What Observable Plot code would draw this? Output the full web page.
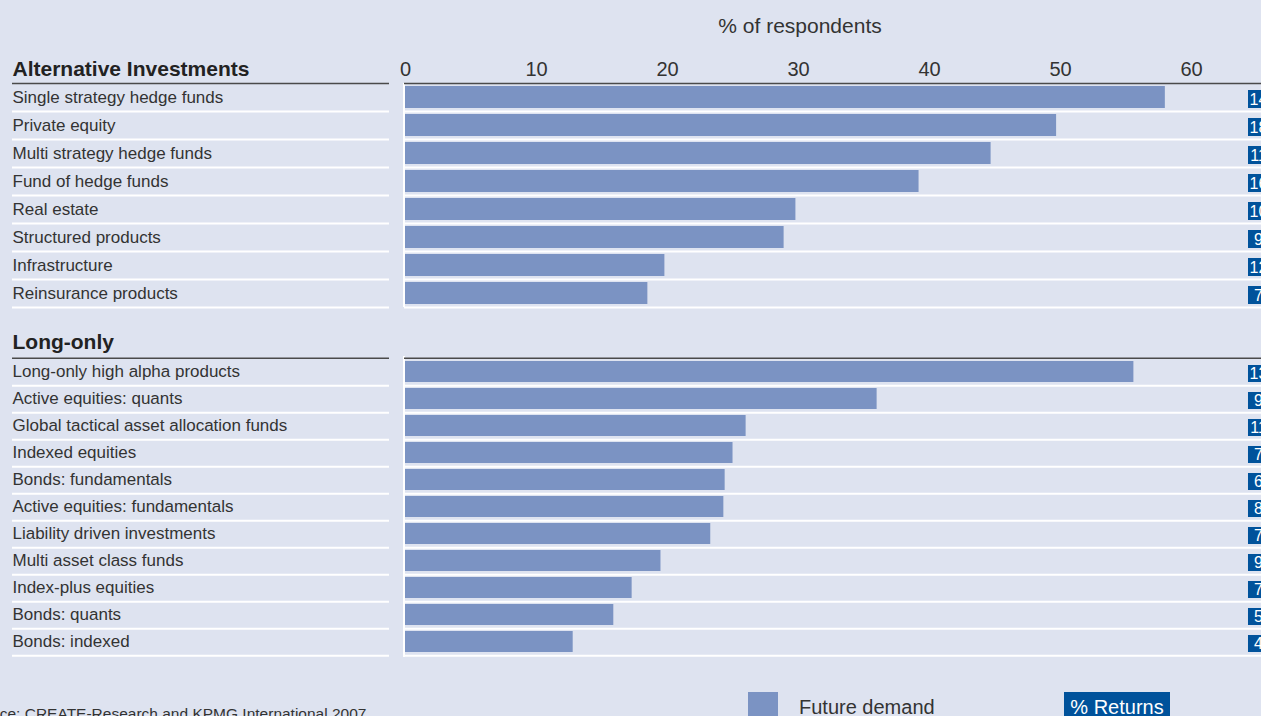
<!DOCTYPE html>
<html>
<head>
<meta charset="utf-8">
<script src="https://cdn.jsdelivr.net/npm/d3@7"></script>
<script src="https://cdn.jsdelivr.net/npm/@observablehq/plot@0.6"></script>
<style>
  html, body { margin: 0; padding: 0; }
  body { width: 1261px; height: 716px; overflow: hidden; background: #dee3f0; position: relative;
         font-family: "Liberation Sans", Arial, sans-serif; color: #333; }
  .abs { position: absolute; }
  #title { left: 600px; width: 400px; top: 14px; line-height: 24px; font-size: 21px; text-align: center; }
  #top { left: 0; top: 0; }
  #bottom { left: 0; top: 312px; }
  #swatch { left: 748px; top: 692px; width: 30px; height: 30px; background: #7b93c3; }
  #swatchLabel { left: 799px; top: 695px; font-size: 20px; line-height: 24px; white-space: nowrap; }
  #retBox { left: 1064px; top: 692px; width: 106px; height: 30px; background: #00529b; color: #fff;
            font-size: 20px; line-height: 24px; padding-top: 3px; box-sizing: border-box; text-align: center; white-space: nowrap; }
  #caption { left: -33px; top: 705px; font-size: 15.5px; line-height: 18px; white-space: nowrap; }
</style>
</head>
<body>
<div id="title" class="abs">% of respondents</div>
<div id="top" class="abs"></div>
<div id="bottom" class="abs"></div>
<div id="swatch" class="abs"></div>
<div id="swatchLabel" class="abs">Future demand</div>
<div id="retBox" class="abs">% Returns</div>
<div id="caption" class="abs">Source: CREATE-Research and KPMG International 2007</div>
<script>
// ---- data ----
const altHeader = "Alternative Investments";
const altNames = [
  "Single strategy hedge funds",
  "Private equity",
  "Multi strategy hedge funds",
  "Fund of hedge funds",
  "Real estate",
  "Structured products",
  "Infrastructure",
  "Reinsurance products"
];
const altDemand = [58.0, 49.7, 44.7, 39.2, 29.8, 28.9, 19.8, 18.5];
const altReturns = [14, 18, 11, 16, 10, 9, 12, 7];

const longHeader = "Long-only";
const longNames = [
  "Long-only high alpha products",
  "Active equities: quants",
  "Global tactical asset allocation funds",
  "Indexed equities",
  "Bonds: fundamentals",
  "Active equities: fundamentals",
  "Liability driven investments",
  "Multi asset class funds",
  "Index-plus equities",
  "Bonds: quants",
  "Bonds: indexed"
];
const longDemand = [55.6, 36.0, 26.0, 25.0, 24.4, 24.3, 23.3, 19.5, 17.3, 15.9, 12.8];
const longReturns = [13, 9, 11, 7, 6, 8, 7, 9, 7, 5, 4];

const xTicks = [0, 10, 20, 30, 40, 50, 60];

// ---- styling constants ----
const W = 1261, ML = 405;
const BAR = "#7b93c3", RET = "#00529b", DARK = "#4a4a4a";
const LABEL_X = 12, LEFT_END = 389;

function section({header, names, demand, returns, step, marginTop, marginBottom, axis}) {
  const rows = names.map((name, i) => ({name, demand: demand[i], ret: returns[i]}));
  const frameH = step * names.length;
  const leftInsetL = -(ML - LABEL_X);
  const leftInsetR = W - LEFT_END;
  const marks = [
    // white row separators (label column and bar column)
    Plot.ruleY(names, {y: d => d, dy: step / 2, stroke: "white", strokeWidth: 2, insetLeft: leftInsetL, insetRight: leftInsetR}),
    Plot.ruleY(names, {y: d => d, dy: step / 2, stroke: "white", strokeWidth: 2, insetLeft: -1}),
    // white vertical line at zero
    Plot.ruleX([0], {stroke: "white", strokeWidth: 2, dx: -1.5}),
    // dark header lines
    Plot.ruleY([names[0]], {y: d => d, dy: -step / 2, stroke: DARK, strokeWidth: 1.6, insetLeft: leftInsetL, insetRight: leftInsetR}),
    Plot.ruleY([names[0]], {y: d => d, dy: -step / 2, stroke: DARK, strokeWidth: 1.6, insetLeft: -1}),
    // bars
    Plot.barX(rows, {x: "demand", y: "name", fill: BAR, insetTop: 3, insetBottom: 3}),
    // returns boxes
    Plot.cell(rows, {y: "name", fill: RET, insetLeft: (W - ML) - 13, insetTop: 7, insetBottom: 3}),
    Plot.text(rows, {y: "name", text: d => String(d.ret), frameAnchor: "right", textAnchor: "middle", dx: -3, dy: 2, fill: "white", fontSize: 16}),
    // row labels
    Plot.text(rows, {y: "name", text: "name", frameAnchor: "left", textAnchor: "start", dx: leftInsetL, fill: "#333", fontSize: 17}),
    // section header
    Plot.text([header], {frameAnchor: "top-left", text: d => d, textAnchor: "start", lineAnchor: "middle", dx: leftInsetL, dy: -14, fontWeight: "bold", fontSize: 21, fill: "#222"})
  ];
  if (axis) {
    marks.push(Plot.axisX(xTicks, {anchor: "top", tickSize: 0, tickPadding: 8, fontSize: 20, label: null, tickFormat: d => String(d)}));
  }
  return Plot.plot({
    width: W,
    height: marginTop + frameH + marginBottom,
    marginLeft: ML,
    marginRight: 0,
    marginTop,
    marginBottom,
    x: {domain: [0, 65.34], axis: null},
    y: {type: "band", domain: names, padding: 0, axis: null},
    style: {background: "transparent", color: "#333", fontFamily: "'Liberation Sans', Arial, sans-serif", overflow: "visible"},
    marks
  });
}

document.getElementById("top").appendChild(section({
  header: altHeader, names: altNames, demand: altDemand, returns: altReturns,
  step: 28, marginTop: 83, marginBottom: 5, axis: true
}));
document.getElementById("bottom").appendChild(section({
  header: longHeader, names: longNames, demand: longDemand, returns: longReturns,
  step: 27.36, marginTop: 44, marginBottom: 4, axis: false
}));
</script>
</body>
</html>
